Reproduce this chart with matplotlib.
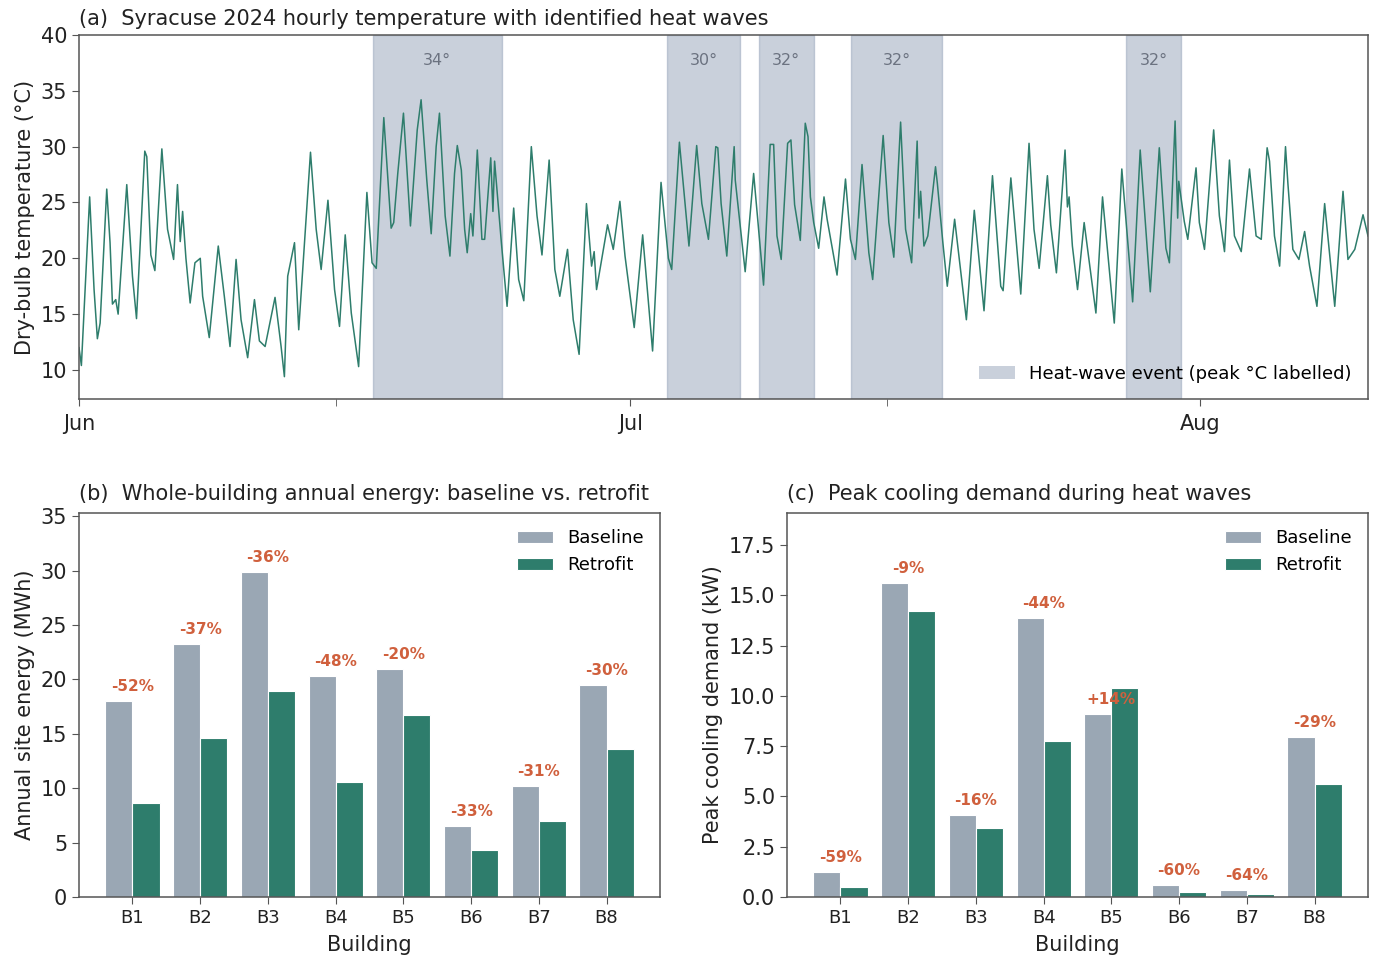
import matplotlib
matplotlib.use("Agg")
import matplotlib.pyplot as plt
import matplotlib.dates as mdates
from matplotlib.patches import Patch
import numpy as np
import pandas as pd

# ---------------- data ----------------
# Hourly dry-bulb temperature, read from the chart as turning points
# (time in days since 2024-06-01 00:00, temperature in degC)
temp_days = [
    0.00, 0.13, 0.58, 0.82, 1.00, 1.15, 1.51, 1.69, 1.82, 2.00, 2.13, 2.60, 2.91, 3.13,
    3.58, 3.69, 3.91, 4.13, 4.51, 4.82, 5.15, 5.36, 5.51, 5.64, 5.82, 6.05, 6.31, 6.60,
    6.73, 7.09, 7.58, 7.91, 8.22, 8.55, 8.82, 9.18, 9.55, 9.82, 10.13, 10.67, 11.00,
    11.18, 11.36, 11.73, 11.96, 12.60, 12.91, 13.18, 13.55, 13.91, 14.18, 14.49, 14.82,
    15.22, 15.67, 15.95, 16.18, 16.59, 16.99, 17.13, 17.35, 17.66, 18.04, 18.41, 18.62,
    18.93, 19.17, 19.44, 19.62, 19.93, 20.19, 20.44, 20.59, 20.81, 20.99, 21.13, 21.32,
    21.44, 21.68, 21.93, 22.08, 22.41, 22.53, 22.62, 22.99, 23.30, 23.66, 23.93, 24.21,
    24.62, 24.93, 25.20, 25.59, 25.90, 26.17, 26.59, 26.90, 27.22, 27.62, 27.90, 28.04,
    28.17, 28.77, 29.08, 29.44, 29.72, 30.22, 30.68, 31.22, 31.68, 32.08, 32.26, 32.68,
    33.20, 33.62, 33.90, 34.26, 34.66, 34.77, 34.95, 35.26, 35.66, 35.72, 36.26, 36.72,
    37.26, 37.62, 37.81, 37.99, 38.22, 38.57, 38.75, 38.95, 39.26, 39.53, 39.68, 39.81,
    39.99, 40.26, 40.55, 40.72, 41.26, 41.72, 41.99, 42.26, 42.62, 42.99, 43.20, 43.77,
    44.08, 44.35, 44.72, 44.99, 45.32, 45.62, 45.72, 45.81, 45.99, 46.20, 46.62, 46.72,
    47.02, 47.26, 47.66, 48.30, 48.73, 49.26, 49.72, 50.17, 50.30, 50.72, 51.26, 51.71,
    51.98, 52.26, 52.71, 52.89, 53.20, 53.67, 53.80, 53.89, 54.07, 54.35, 54.71, 55.35,
    55.71, 56.35, 56.76, 57.35, 57.76, 58.31, 58.80, 59.16, 59.35, 59.66, 59.80, 59.86,
    60.16, 60.35, 60.80, 60.98, 61.26, 61.76, 62.07, 62.35, 62.62, 62.89, 63.26, 63.71,
    64.07, 64.35, 64.67, 64.80, 65.07, 65.35, 65.67, 65.80, 66.07, 66.40, 66.71, 66.98,
    67.38, 67.80, 68.35, 68.80, 69.07, 69.44, 69.89, 70.16,
]
temp_c = [
    12.0, 10.4, 25.5, 17.2, 12.8, 14.2, 26.2, 21.4, 15.9, 16.3, 15.0, 26.6, 18.4, 14.6,
    29.6, 29.1, 20.3, 18.9, 29.8, 22.6, 19.9, 26.6, 21.5, 24.2, 20.0, 16.0, 19.6, 20.0,
    16.6, 12.9, 21.1, 16.6, 12.1, 19.9, 14.5, 11.1, 16.3, 12.6, 12.1, 16.5, 12.1,
    9.4, 18.4, 21.4, 13.6, 29.5, 22.6, 19.0, 25.2, 17.2, 13.9, 22.1, 15.1,
    10.3, 25.9, 19.6, 19.1, 32.6, 22.7, 23.2, 27.6, 33.0, 22.9, 31.5, 34.2,
    27.0, 22.2, 30.0, 33.0, 23.8, 20.2, 27.6, 30.1, 27.9, 22.6, 20.5, 24.0,
    22.0, 29.7, 21.7, 21.7, 29.0, 24.2, 28.7, 21.4, 15.7, 24.5, 18.1, 16.2,
    30.0, 23.8, 20.3, 28.8, 19.0, 16.6, 20.8, 14.5, 11.4, 24.9, 19.3, 20.6,
    17.2, 23.0, 20.8, 25.1, 20.2, 13.8, 22.1, 11.7, 26.8, 20.0, 19.0, 30.4,
    21.1, 30.1, 24.9, 21.7, 30.0, 29.9, 24.9, 20.2, 30.0, 27.0, 18.8, 27.6,
    17.6, 30.2, 30.2, 22.0, 19.9, 30.3, 30.6, 24.8, 21.6, 32.1, 30.9, 25.5,
    23.2, 20.9, 25.5, 23.5, 18.5, 27.1, 21.7, 19.9, 28.4, 20.5, 18.1, 31.0,
    23.2, 20.1, 32.2, 22.6, 19.6, 30.5, 23.6, 26.0, 21.1, 22.0, 28.2, 26.7,
    21.4, 17.5, 23.5, 14.5, 24.3, 15.3, 27.4, 17.5, 17.1, 27.2, 16.8, 30.3,
    22.6, 19.1, 27.4, 23.0, 18.7, 29.7, 24.6, 25.5, 21.1, 17.2, 23.2, 15.1,
    25.5, 14.2, 28.0, 16.1, 29.7, 17.0, 29.9, 20.9, 19.6, 32.3, 23.6, 26.9,
    23.3, 21.7, 28.1, 23.2, 20.8, 31.5, 23.8, 20.6, 28.8, 22.0, 20.6, 28.0,
    22.0, 21.7, 29.9, 28.7, 22.0, 19.3, 30.0, 26.7, 20.8, 19.9, 22.4, 19.3,
    15.7, 24.9, 15.7, 26.0, 19.9, 20.8, 23.9, 22.0,
]

# Heat-wave events (start / end dates)
hw_start = ["2024-06-17", "2024-07-03", "2024-07-08", "2024-07-13", "2024-07-28"]
hw_end = ["2024-06-24", "2024-07-07", "2024-07-11", "2024-07-18", "2024-07-31"]

# Buildings
buildings = ["B1", "B2", "B3", "B4", "B5", "B6", "B7", "B8"]
energy_baseline = [18.02, 23.27, 29.84, 20.36, 20.94, 6.50, 10.22, 19.50]
energy_retrofit = [8.60, 14.60, 18.97, 10.60, 16.70, 4.35, 7.03, 13.65]
peak_baseline = [1.25, 15.64, 4.08, 13.86, 9.10, 0.58, 0.36, 7.95]
peak_retrofit = [0.51, 14.25, 3.44, 7.76, 10.41, 0.23, 0.13, 5.62]

# ---------------- style ----------------
C_LINE = "#2e7d6c"
C_BASE = "#9aa7b4"
C_RETRO = "#2e7d6c"
C_SPAN = "#94a3b8"
C_PCT = "#d0603d"
C_SPINE = "#555555"
TXT = "#222222"

plt.rcParams["font.family"] = ["DejaVu Sans"]
plt.rcParams["axes.edgecolor"] = C_SPINE
plt.rcParams["axes.linewidth"] = 1.1
plt.rcParams["xtick.color"] = C_SPINE
plt.rcParams["ytick.color"] = C_SPINE
plt.rcParams["xtick.labelcolor"] = TXT
plt.rcParams["ytick.labelcolor"] = TXT

W, H = 1381, 960
fig = plt.figure(figsize=(W / 100, H / 100), dpi=100)

def box(l, t, r, b):
    return [l / W, 1 - b / H, (r - l) / W, (b - t) / H]

ax_a = fig.add_axes(box(79, 35, 1368, 399))
ax_b = fig.add_axes(box(79, 513, 660, 897))
ax_c = fig.add_axes(box(787, 513, 1368, 897))

# ---------------- panel (a) ----------------
t0 = pd.Timestamp("2024-06-01")
times = t0 + pd.to_timedelta(np.array(temp_days), unit="D")
temps = np.array(temp_c)

for s, e in zip(hw_start, hw_end):
    s_ts, e_ts = pd.Timestamp(s), pd.Timestamp(e)
    ax_a.axvspan(s_ts, e_ts, facecolor=C_SPAN, alpha=0.5, edgecolor=C_SPAN,
                 linewidth=1.0, zorder=1)
    mask = (times >= s_ts) & (times <= e_ts)
    peak = temps[mask].max()
    mid = s_ts + (e_ts - s_ts) / 2
    ax_a.text(mid, 0.93, f"{peak:.0f}°", transform=ax_a.get_xaxis_transform(),
              ha="center", va="center", fontsize=11.5, color="#6b7280", zorder=3)

ax_a.plot(times, temps, color=C_LINE, linewidth=1.1, solid_joinstyle="round",
          zorder=2)
ax_a.set_xlim(times[0], times[-1])
ax_a.set_ylim(7.4, 40)
ax_a.set_yticks([10, 15, 20, 25, 30, 35, 40])
ax_a.xaxis.set_major_locator(mdates.MonthLocator())
ax_a.xaxis.set_major_formatter(mdates.DateFormatter("%b"))
ax_a.xaxis.set_minor_locator(mdates.DayLocator(bymonthday=15))
ax_a.tick_params(axis="both", which="major", labelsize=15, length=5)
ax_a.tick_params(axis="x", which="major", pad=6)
ax_a.tick_params(axis="x", which="minor", length=5)
ax_a.set_ylabel("Dry-bulb temperature (°C)", fontsize=15, color=TXT)
ax_a.set_title("(a)  Syracuse 2024 hourly temperature with identified heat waves",
               loc="left", fontsize=15, color=TXT, pad=7)
ax_a.legend(handles=[Patch(facecolor=C_SPAN, alpha=0.5, edgecolor="none",
                           label="Heat-wave event (peak °C labelled)")],
            loc="lower right", frameon=False, fontsize=13)

# ---------------- panels (b), (c) ----------------
def bar_panel(ax, base, retro, ylabel, title, ytop, yticks, fmt):
    x = np.arange(len(buildings))
    w = 0.4
    ax.bar(x - w / 2, base, width=w, color=C_BASE, edgecolor="white",
           linewidth=0.8, label="Baseline", zorder=2)
    ax.bar(x + w / 2, retro, width=w, color=C_RETRO, edgecolor="white",
           linewidth=0.8, label="Retrofit", zorder=2)
    for xi, b, r in zip(x, base, retro):
        pct = (r - b) / b * 100
        ax.annotate(f"{pct:+.0f}%", xy=(xi, b), xytext=(0, 5),
                    textcoords="offset points", ha="center", va="bottom",
                    fontsize=11, fontweight="bold", color=C_PCT, zorder=4)
    ax.set_xticks(x)
    ax.set_xticklabels(buildings)
    ax.set_ylim(0, ytop)
    ax.set_yticks(yticks)
    ax.yaxis.set_major_formatter(plt.FormatStrFormatter(fmt))
    ax.tick_params(axis="x", labelsize=13, length=5)
    ax.tick_params(axis="y", labelsize=15, length=5)
    ax.set_xlabel("Building", fontsize=15, color=TXT, labelpad=6)
    ax.set_ylabel(ylabel, fontsize=15, color=TXT)
    ax.set_title(title, loc="left", fontsize=15, color=TXT, pad=9)
    ax.legend(loc="upper right", frameon=False, fontsize=13)

bar_panel(ax_b, energy_baseline, energy_retrofit, "Annual site energy (MWh)",
          "(b)  Whole-building annual energy: baseline vs. retrofit",
          35.3, [0, 5, 10, 15, 20, 25, 30, 35], "%g")
bar_panel(ax_c, peak_baseline, peak_retrofit, "Peak cooling demand (kW)",
          "(c)  Peak cooling demand during heat waves",
          19.1, [0, 2.5, 5, 7.5, 10, 12.5, 15, 17.5], "%.1f")

fig.savefig("out.png", dpi=100)
